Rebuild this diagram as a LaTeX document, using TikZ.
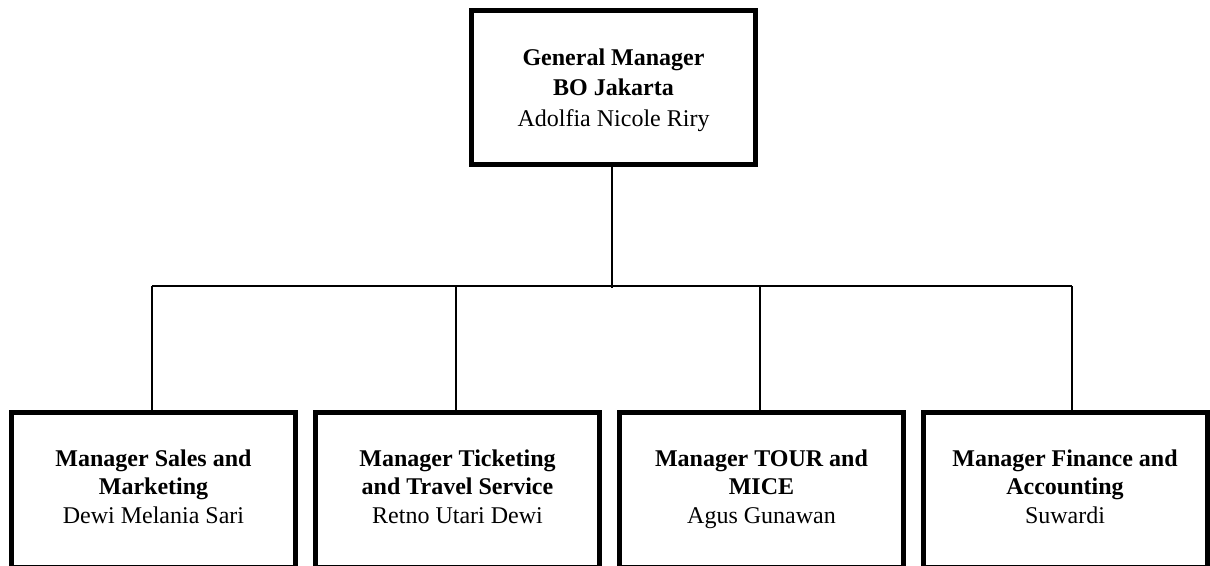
\documentclass[tikz,border=0pt]{standalone}
\usepackage{fontspec}
\setmainfont{Liberation Serif}
\begin{document}
\begin{tikzpicture}[x=1pt,y=-1pt,
  orgbox/.style={draw=black, line width=5pt, fill=white, rectangle,
    minimum width=284pt, inner sep=0pt, align=center,
    font=\fontsize{24}{28.5}\selectfont},
  link/.style={draw=black, line width=2pt}]
  \useasboundingbox (0,0) rectangle (1210,565);

  % head of the branch office
  \node[orgbox, minimum height=154pt, text height=83.5pt, text depth=6pt,
        font=\fontsize{24}{30.5}\selectfont] (gm) at (613.5,87.5)
    {\textbf{General Manager}\\\textbf{BO Jakarta}\\Adolfia Nicole Riry};

  % departmental managers (boxes run past the lower page edge)
  \tikzset{dept/.style={orgbox, minimum height=154.5pt, text depth=6.5pt}}
  \node[dept] (m1) at (153.5,489.75)
    {\textbf{Manager Sales and}\\\textbf{Marketing}\\Dewi Melania Sari};
  \node[dept] (m2) at (457.5,489.75)
    {\textbf{Manager Ticketing}\\\textbf{and Travel Service}\\Retno Utari Dewi};
  \node[dept] (m3) at (761.5,489.75)
    {\textbf{Manager TOUR and}\\\textbf{MICE}\\Agus Gunawan};
  \node[dept] (m4) at (1065,489.75)
    {\textbf{Manager Finance and}\\\textbf{Accounting}\\Suwardi};

  % bus line and its drops
  \coordinate (b0) at (612,286);
  \coordinate (b1) at (152,286);
  \coordinate (b2) at (456,286);
  \coordinate (b3) at (760,286);
  \coordinate (b4) at (1072,286);

  \draw[link] (gm.south -| b0) -- ([yshift=-2pt]b0);
  \draw[link] (b1) -- (b4);
  \draw[link] (b1) -- (b1 |- m1.north);
  \draw[link] (b2) -- (b2 |- m2.north);
  \draw[link] (b3) -- (b3 |- m3.north);
  \draw[link] (b4) -- (b4 |- m4.north);
\end{tikzpicture}
\end{document}
